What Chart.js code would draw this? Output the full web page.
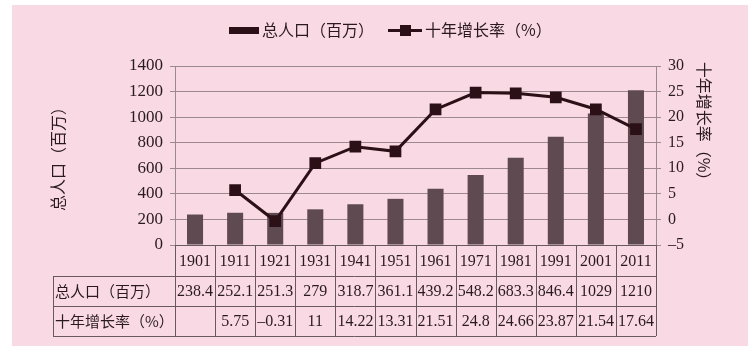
<!DOCTYPE html>
<html><head><meta charset="utf-8">
<script src="https://cdn.jsdelivr.net/npm/chart.js@4.4.1/dist/chart.umd.min.js"></script>
<style>html,body{margin:0;padding:0;background:#fff;}canvas{display:block;}</style>
</head><body>
<canvas id="c" width="753" height="357"></canvas>
<script>
const years = ['1901','1911','1921','1931','1941','1951','1961','1971','1981','1991','2001','2011'];
const population = [238.4,252.1,251.3,279,318.7,361.1,439.2,548.2,683.3,846.4,1029,1210];
const growth = [null,5.75,-0.31,11,14.22,13.31,21.51,24.8,24.66,23.87,21.54,17.64];
const popLabel = '总人口（百万）';
const rateLabel = '十年增长率（%）';
const popTitle = '总人口（百万）';
const rateTitle = '十年增长率（%）';

const SERIF = "'Liberation Serif', serif";
const CJK = "'Noto Sans CJK SC', sans-serif";
const TXT = '#2a1a20';
const BAR = '#5f4a51';
const LINE = '#2b1117';
const GRID = '#9c8890';
const TABLE = '#6a5860';
const PINK = '#f8d9e4';

Chart.defaults.font.family = SERIF;
Chart.defaults.color = TXT;

const fmt = v => v == null ? '' : String(v).replace('-', '–');

const decor = {
  id: 'decor',
  beforeDraw(chart) {
    const ctx = chart.ctx;
    ctx.save();
    ctx.fillStyle = '#ffffff';
    ctx.fillRect(0, 0, chart.width, chart.height);
    ctx.fillStyle = PINK;
    ctx.fillRect(12, 5, 736, 341);
    ctx.restore();
  },
  afterDraw(chart) {
    const ctx = chart.ctx;
    const a = chart.chartArea;
    const x = chart.scales.x;
    const n = years.length;
    const colW = (a.right - a.left) / n;
    const r0 = a.bottom, r1 = 276, r2 = 306, r3 = 336, tl = 53;
    ctx.save();
    ctx.strokeStyle = TABLE;
    ctx.lineWidth = 1;
    ctx.beginPath();
    ctx.moveTo(a.left, r0 + 0.5); ctx.lineTo(a.right, r0 + 0.5);
    [r1, r2, r3].forEach(y => { ctx.moveTo(tl, y + 0.5); ctx.lineTo(a.right, y + 0.5); });
    ctx.moveTo(tl + 0.5, r1); ctx.lineTo(tl + 0.5, r3);
    for (let i = 0; i <= n; i++) {
      const xx = Math.round(a.left + i * colW) + 0.5;
      ctx.moveTo(xx, r0); ctx.lineTo(xx, r3);
    }
    ctx.stroke();
    ctx.fillStyle = TXT;
    ctx.textBaseline = 'middle';
    ctx.textAlign = 'center';
    ctx.font = '16px ' + SERIF;
    for (let i = 0; i < n; i++) {
      const cx = x.getPixelForValue(i);
      ctx.fillText(years[i], cx, (r0 + r1) / 2 + 1);
      ctx.fillText(fmt(population[i]), cx, (r1 + r2) / 2 + 1);
      ctx.fillText(fmt(growth[i]), cx, (r2 + r3) / 2 + 1);
    }
    ctx.textAlign = 'left';
    ctx.font = '15px ' + CJK;
    ctx.fillText(popLabel, 55, (r1 + r2) / 2);
    ctx.fillText(rateLabel, 55, (r2 + r3) / 2);
    ctx.font = '16px ' + CJK;
    ctx.textAlign = 'center';
    ctx.save();
    ctx.translate(58, 155);
    ctx.rotate(-Math.PI / 2);
    ctx.fillText(popTitle, 0, 0);
    ctx.restore();
    ctx.save();
    ctx.translate(704, 125);
    ctx.rotate(Math.PI / 2);
    ctx.fillText(rateTitle, 0, 0);
    ctx.restore();
    const ly = 30;
    ctx.fillStyle = LINE;
    ctx.fillRect(229, ly - 3, 30, 7);
    ctx.fillStyle = TXT;
    ctx.textAlign = 'left';
    ctx.font = '16px ' + CJK;
    ctx.fillText(chart.data.datasets[1].label, 262, ly);
    ctx.strokeStyle = LINE;
    ctx.lineWidth = 3;
    ctx.beginPath();
    ctx.moveTo(388, ly + 0.5); ctx.lineTo(422, ly + 0.5);
    ctx.stroke();
    ctx.fillStyle = LINE;
    ctx.fillRect(400, ly - 5, 11, 11);
    ctx.fillStyle = TXT;
    ctx.fillText(chart.data.datasets[0].label, 425, ly);
    ctx.restore();
  }
};

new Chart(document.getElementById('c'), {
  data: {
    labels: years,
    datasets: [
      {
        type: 'line', label: rateLabel, data: growth, yAxisID: 'y1', order: 0,
        borderColor: LINE, borderWidth: 3, backgroundColor: LINE,
        pointStyle: 'rect', pointRadius: 8.3, pointBorderWidth: 0,
        pointBackgroundColor: LINE, tension: 0
      },
      {
        type: 'bar', label: popLabel, data: population, yAxisID: 'y', order: 1,
        backgroundColor: BAR, barPercentage: 0.4, categoryPercentage: 1
      }
    ]
  },
  options: {
    responsive: false, animation: false, devicePixelRatio: 1,
    layout: { padding: { top: 66, left: 0, right: 0, bottom: 0 } },
    plugins: { legend: { display: false }, tooltip: { enabled: false }, title: { display: false } },
    scales: {
      x: {
        ticks: { display: false }, grid: { display: false }, border: { display: false },
        afterFit(s) { s.height = 112; }
      },
      y: {
        position: 'left', min: 0, max: 1400,
        ticks: { stepSize: 200, color: TXT, font: { family: 'Liberation Serif', size: 17 }, padding: 7, callback: v => String(v) },
        grid: { color: GRID, tickLength: 5, lineWidth: 1 },
        border: { display: true, color: GRID },
        afterFit(s) { s.width = 175; }
      },
      y1: {
        position: 'right', min: -5, max: 30,
        ticks: { stepSize: 5, color: TXT, font: { family: 'Liberation Serif', size: 16 }, padding: 7, callback: v => fmt(v) },
        grid: { drawOnChartArea: false, color: GRID, tickLength: 5 },
        border: { display: true, color: GRID },
        afterFit(s) { s.width = 97; }
      }
    }
  },
  plugins: [decor]
});
</script>
</body></html>
